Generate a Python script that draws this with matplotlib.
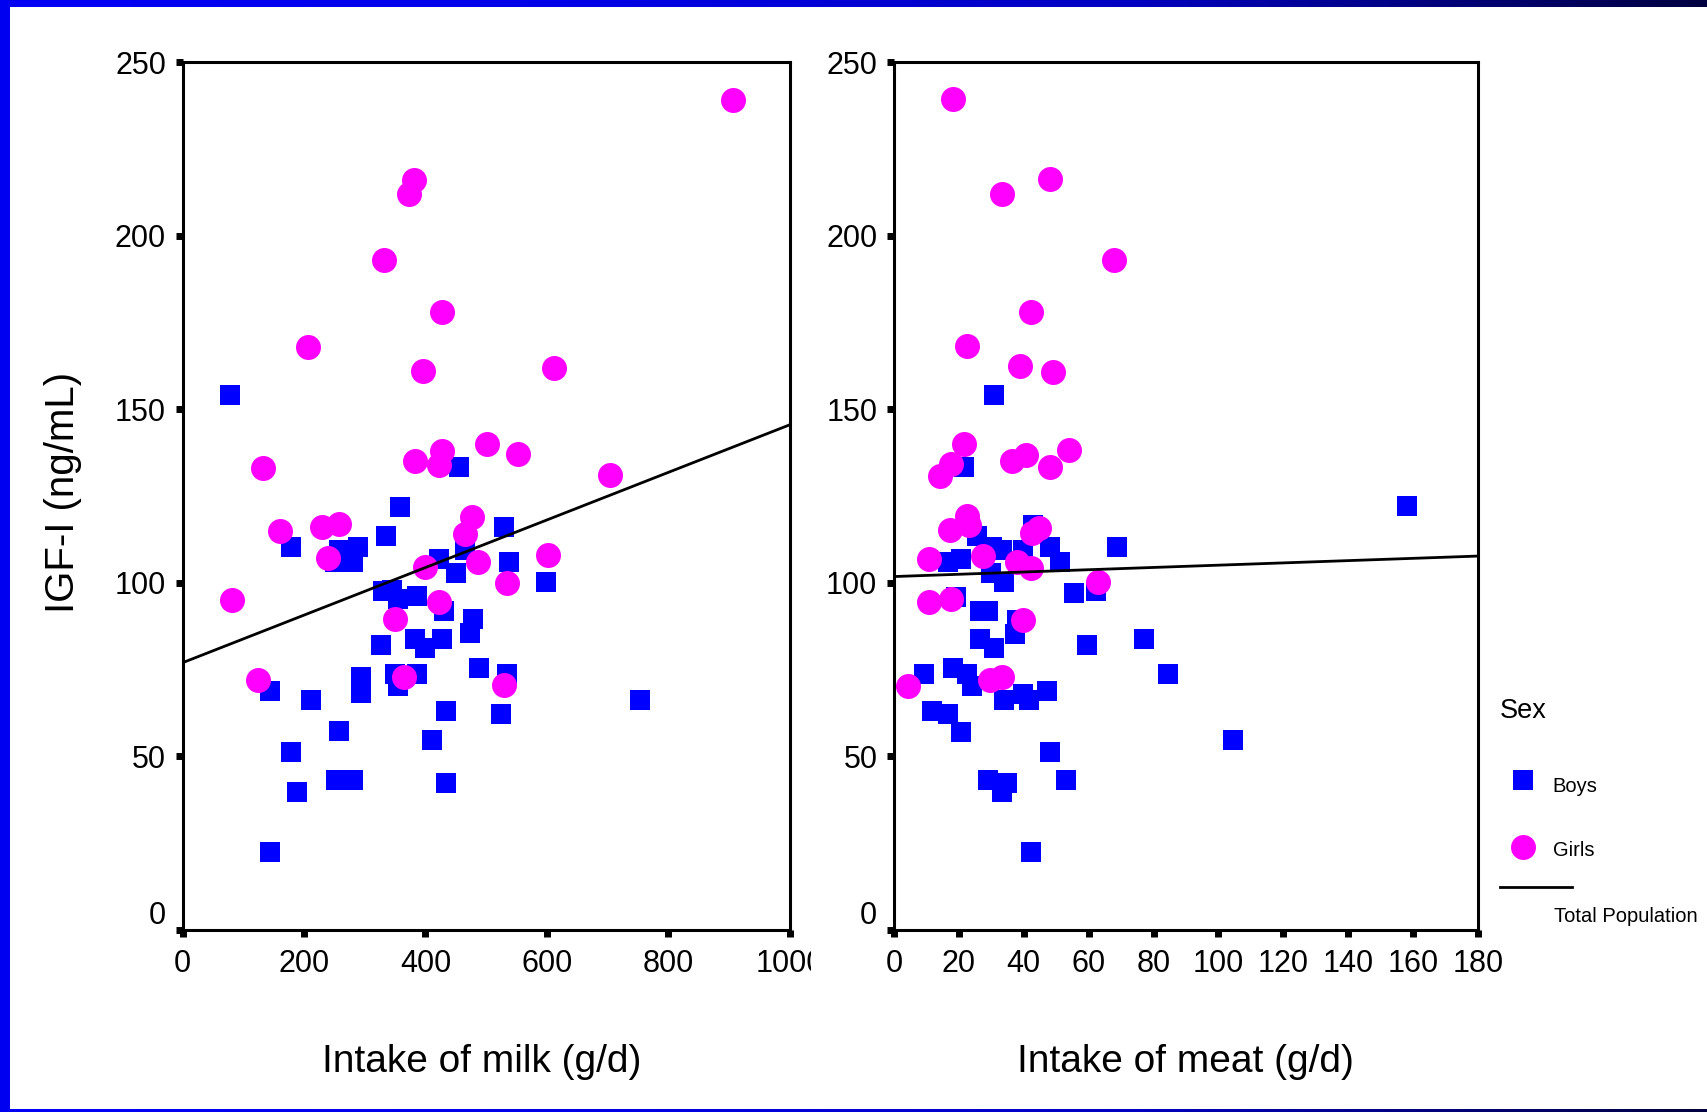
import matplotlib
matplotlib.use("Agg")
import matplotlib.pyplot as plt
import numpy as np
from matplotlib.lines import Line2D
from matplotlib.transforms import ScaledTranslation, Bbox, TransformedBbox
from matplotlib.colors import LinearSegmentedColormap

plt.rcParams['font.family'] = ['Liberation Sans', 'DejaVu Sans']

# ---------------- data ----------------
milk_girls = [906, 381, 373, 332, 428, 207, 396, 612, 133, 382, 428, 423, 501, 552, 704,
              160, 229, 258, 239, 477, 465, 400, 487, 602, 534, 82, 423, 350, 124, 364, 529]
igf_milk_girls = [239, 216, 212, 193, 178, 168, 161, 162, 133, 135, 138, 134, 140, 137, 131,
                  115, 116, 117, 107, 119, 114, 104.5, 106, 108, 100, 95, 94.5, 89.5, 72, 73, 70.5]

milk_boys = [78, 455, 358, 335, 529, 179, 258, 289, 280, 251, 423, 465, 451, 538, 598,
             330, 344, 355, 386, 430, 478, 473, 327, 382, 400, 428, 488, 534, 294, 294,
             350, 386, 354, 143, 212, 754, 433, 524, 258, 410, 179, 253, 280, 433, 188, 143]
igf_milk_boys = [154, 133.4, 121.8, 113.5, 116, 110.2, 109.5, 110.2, 106.1, 106.1, 106.9, 109.5,
                 102.8, 106.1, 100.2, 97.5, 98, 95.4, 96.2, 92, 89.5, 85.5, 82, 83.8, 81.2, 83.8,
                 75.4, 73.8, 73, 68.2, 73.8, 73.8, 70.4, 68.8, 66.3, 66.3, 63, 62.1, 57.3, 54.8,
                 51.4, 43.1, 43.1, 42.2, 39.8, 22.4]

meat_girls = [18.3, 33.2, 48.1, 67.9, 42.2, 22.4, 38.9, 48.9, 21.6, 53.8, 40.6, 36.5, 17.5, 14.2,
              48.1, 22.4, 23.2, 17.4, 44.8, 42.4, 10.8, 27.3, 38.0, 42.2, 63.0, 10.8, 17.5, 39.7,
              4.2, 29.6, 33.2]
igf_meat_girls = [239.4, 212, 216.2, 193, 178.1, 168.1, 162.3, 160.7, 140, 138.3, 136.7, 135,
                  134.2, 130.7, 133.3, 119.3, 116.7, 115.1, 115.9, 114.3, 106.8, 107.6, 105.9,
                  104.4, 100.3, 94.4, 95.3, 89.4, 70.4, 72.0, 73.0]

meat_boys = [30.7, 21.7, 158, 25.7, 42.9, 30.1, 33.2, 39.9, 48.1, 68.7, 16.6, 20.6, 51.3, 29.9,
             34.0, 19.2, 55.5, 62.2, 26.5, 29.1, 38.0, 37.3, 26.5, 30.7, 59.6, 77.2, 9.1, 18.3,
             22.4, 24.0, 84.4, 34.0, 39.9, 41.5, 47.2, 11.6, 16.6, 20.7, 104.4, 48.1, 29.1, 34.8,
             53.0, 33.2, 42.2]
igf_meat_boys = [154.1, 133.4, 122, 113.5, 116.7, 110.2, 109.5, 109.5, 110.2, 110.2, 106.1, 106.8,
                 106.1, 102.8, 100.2, 96.0, 97.0, 97.7, 92.0, 92.0, 89.4, 85.3, 83.8, 81.2, 82.0,
                 83.8, 73.8, 75.4, 73.8, 70.4, 73.8, 66.3, 67.9, 66.3, 68.8, 63.0, 62.1, 57.1, 54.8,
                 51.4, 43.1, 42.2, 43.1, 39.8, 22.4]

# total-population fit lines (end values)
milk_fit_x = [0, 1000]
milk_fit_y = [77.0, 145.5]
meat_fit_x = [0, 180]
meat_fit_y = [101.8, 107.7]

milk_ticks = [0, 200, 400, 600, 800, 1000]
meat_ticks = [0, 20, 40, 60, 80, 100, 120, 140, 160, 180]
igf_ticks = [0, 50, 100, 150, 200, 250]

legend_title = "Sex"
legend_labels = ["Boys", "Girls", "Total Population"]

BLUE = "#0000FF"
MAGENTA = "#FF00FF"

# ---------------- figure ----------------
W, H = 1708, 1112
fig = plt.figure(figsize=(W / 100, H / 100), dpi=100)
fig.patch.set_facecolor("white")

def fx(px):
    return px / W

def fy(py):
    return 1 - py / H

ax1 = fig.add_axes([fx(182.7), fy(930), fx(789.7) - fx(182.7), (930 - 62) / H])
ax2 = fig.add_axes([fx(894), fy(930), fx(1478) - fx(894), (930 - 62) / H])

SQ = 13.7 ** 2
CI = 18.0 ** 2

def style(ax, xt, xlim):
    ax.set_xlim(*xlim)
    ax.set_ylim(0, 250)
    ax.set_xticks(xt)
    ax.set_xticklabels([str(v) for v in xt])
    ax.set_yticks(igf_ticks)
    ax.set_yticklabels([str(v) for v in igf_ticks])
    for s in ax.spines.values():
        s.set_linewidth(2.2)
        s.set_color("black")
    ax.tick_params(axis="both", direction="out", length=5, width=5, colors="black",
                   labelsize=22)
    ax.tick_params(axis="x", pad=9)
    ax.tick_params(axis="y", pad=7)
    ax.set_facecolor("white")

ax1.scatter(milk_boys, igf_milk_boys, marker="s", s=SQ, c=BLUE, linewidths=0, zorder=2)
ax1.scatter(milk_girls, igf_milk_girls, marker="o", s=CI, c=MAGENTA, linewidths=0, zorder=3)
ax1.plot(milk_fit_x, milk_fit_y, color="black", lw=2.0, zorder=4)
style(ax1, milk_ticks, (0, 1000))

ax2.scatter(meat_boys, igf_meat_boys, marker="s", s=SQ, c=BLUE, linewidths=0, zorder=2)
ax2.scatter(meat_girls, igf_meat_girls, marker="o", s=CI, c=MAGENTA, linewidths=0, zorder=3)
ax2.plot(meat_fit_x, meat_fit_y, color="black", lw=2.0, zorder=4)
style(ax2, meat_ticks, (0, 180))

# axis labels
ax1.set_xlabel("Intake of milk (g/d)", fontsize=28)
ax1.xaxis.label.set_verticalalignment("center")
ax1.xaxis.set_label_coords(0.493, (930 - 1062) / 868)
ax2.set_xlabel("Intake of meat (g/d)", fontsize=28)
ax2.xaxis.label.set_verticalalignment("center")
ax2.xaxis.set_label_coords((1088 * 1.0893 - 894) / 584, (930 - 1062) / 868)
ax1.set_ylabel("IGF-I (ng/mL)", fontsize=29)
ax1.yaxis.label.set_verticalalignment("center")
ax1.yaxis.label.set_horizontalalignment("center")
ax1.yaxis.set_label_coords((63 - 182.7) / 607, (930 - 492) / 868)

# shift the "0" y label up as in the original
for ax in (ax1, ax2):
    for lbl in ax.get_yticklabels():
        if lbl.get_text() == "0":
            lbl.set_transform(lbl.get_transform() + ScaledTranslation(0, 0.18, fig.dpi_scale_trans))

# clip the last milk label like in the original
clipbox = TransformedBbox(Bbox([[0, 0], [fx(811), 1]]), fig.transFigure)
for lbl in ax1.get_xticklabels():
    if lbl.get_text() == "1000":
        lbl.set_clip_box(clipbox)
        lbl.set_clip_on(True)

# ---------------- legend ----------------
fig.text(fx(1500), fy(711), legend_title, fontsize=19.5, ha="left", va="center")
fig.add_artist(Line2D([fx(1522.7)], [fy(780.3)], marker="s", markersize=13.7, color=BLUE,
                      markeredgewidth=0, linestyle="none", transform=fig.transFigure))
fig.text(fx(1552.7), fy(786), legend_labels[0], fontsize=14.5, ha="left", va="center")
fig.add_artist(Line2D([fx(1522.7)], [fy(846.7)], marker="o", markersize=18, color=MAGENTA,
                      markeredgewidth=0, linestyle="none", transform=fig.transFigure))
fig.text(fx(1552.7), fy(850), legend_labels[1], fontsize=14.5, ha="left", va="center")
fig.add_artist(Line2D([fx(1500), fx(1571.7)], [fy(887), fy(887)], color="black", lw=2.0,
                      transform=fig.transFigure))
fig.text(fx(1554), fy(917), legend_labels[2], fontsize=14.5, ha="left", va="center")

# ---------------- slide border ----------------
grad = np.linspace(0, 1, 256)[None, :]
cmap = LinearSegmentedColormap.from_list("bd", ["#0000F5", "#0000E8", "#0000C0", "#000040"])
top = fig.add_axes([0, fy(7), 1, 7 / H])
top.imshow(grad, aspect="auto", cmap=cmap, extent=[0, 1, 0, 1])
top.set_axis_off()
bot = fig.add_axes([0, 0, 1, 3 / H])
bot.imshow(grad, aspect="auto", cmap=cmap, extent=[0, 1, 0, 1])
bot.set_axis_off()
left = fig.add_axes([0, 0, 10 / W, 1])
left.set_facecolor("#0000F0")
left.set_xticks([]); left.set_yticks([])
for s in left.spines.values():
    s.set_visible(False)

fig.savefig("out.png", dpi=100, facecolor="white")
